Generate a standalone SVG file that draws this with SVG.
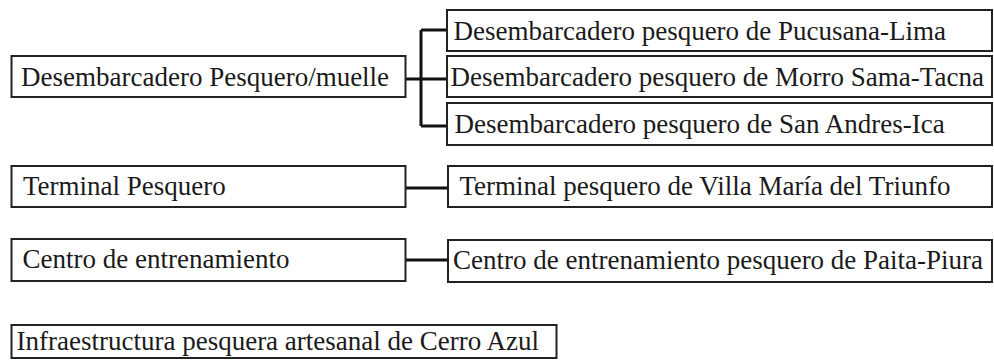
<svg xmlns="http://www.w3.org/2000/svg" width="994" height="362" viewBox="0 0 994 362">
<style>
.box{fill:#fff;stroke:#222;stroke-width:2}
.t{font-family:"Liberation Serif","Times New Roman",serif;font-size:27px;fill:#1a1a1a}
.c{fill:none;stroke:#111;stroke-width:3}
</style>
<rect width="994" height="362" fill="#fff"/>
<g id="connectors">
<path class="c" d="M405,79 H447 M421,30 V126 M421,30 H447 M421,126 H447"/>
<path class="c" d="M405,188 H448"/>
<path class="c" d="M405,260 H448"/>
</g>
<g id="n-desembarcadero">
<rect class="box" x="11.5" y="56" width="394" height="41"/>
<text class="t" x="21" y="86">Desembarcadero Pesquero/muelle</text>
</g>
<g id="n-pucusana">
<rect class="box" x="447" y="10" width="545" height="41"/>
<text class="t" x="453.5" y="40">Desembarcadero pesquero de Pucusana-Lima</text>
</g>
<g id="n-morrosama">
<rect class="box" x="447" y="56" width="545" height="41"/>
<text class="t" x="450.5" y="86">Desembarcadero pesquero de Morro Sama-Tacna</text>
</g>
<g id="n-sanandres">
<rect class="box" x="447" y="103" width="545" height="42"/>
<text class="t" x="454.5" y="133">Desembarcadero pesquero de San Andres-Ica</text>
</g>
<g id="n-terminal">
<rect class="box" x="11.5" y="166" width="394" height="41"/>
<text class="t" x="23" y="195">Terminal Pesquero</text>
</g>
<g id="n-villamaria">
<rect class="box" x="448" y="166" width="544" height="41"/>
<text class="t" x="459.5" y="195">Terminal pesquero de Villa María del Triunfo</text>
</g>
<g id="n-centro">
<rect class="box" x="11.5" y="239" width="394" height="42"/>
<text class="t" x="22.5" y="268">Centro de entrenamiento</text>
</g>
<g id="n-paita">
<rect class="box" x="448" y="240" width="544" height="42"/>
<text class="t" x="453" y="269">Centro de entrenamiento pesquero de Paita-Piura</text>
</g>
<g id="n-cerroazul">
<rect class="box" x="11.5" y="325" width="545" height="33"/>
<text class="t" x="16.5" y="350">Infraestructura pesquera artesanal de Cerro Azul</text>
</g>
</svg>
